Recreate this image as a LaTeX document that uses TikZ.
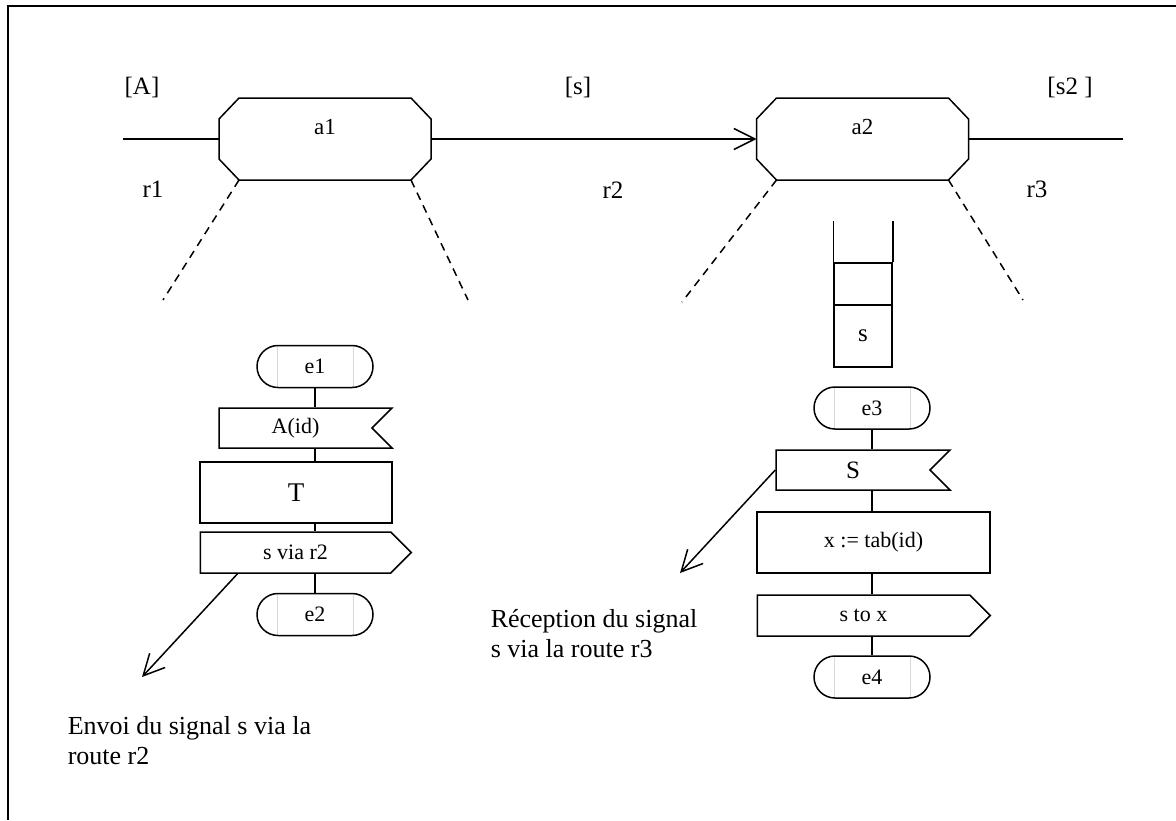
\documentclass[tikz,border=0pt]{standalone}
\usepackage{fontspec}
\setmainfont{Liberation Serif}
\usetikzlibrary{calc}
\usetikzlibrary{shapes.misc}
\usetikzlibrary{shapes.symbols}
\usetikzlibrary{arrows.meta}

\begin{document}
\begin{tikzpicture}[x=0.5pt, y=-0.5pt, line width=0.75pt,
      font=\fontsize{12.5}{15}\selectfont,
      >={Straight Barb[length=10.5pt, width=10.5pt]},
      small/.style={font=\fontsize{11}{13}\selectfont},
      big/.style={font=\fontsize{13.5}{15}\selectfont},
      note/.style={anchor=north west, align=left, inner sep=0pt,
        font=\fontsize{13}{15}\selectfont},
      block/.style={rectangle, minimum width=106pt, minimum height=41pt,
        inner sep=0pt, outer sep=0pt},
      term/.style={rounded rectangle, draw, small, minimum width=58pt,
        minimum height=21pt, inner sep=0pt,
        path picture={\draw[gray!30, line width=0.5pt]
          ([xshift=10pt]path picture bounding box.north west) --
          ([xshift=10pt]path picture bounding box.south west)
          ([xshift=-10pt]path picture bounding box.north east) --
          ([xshift=-10pt]path picture bounding box.south east);}},
      inbox/.style={signal, signal to=nowhere, signal from=east, draw, small,
        minimum width=86.5pt, minimum height=20pt, inner sep=0pt},
      outbox/.style={signal, signal to=east, draw, small,
        minimum width=105.5pt, minimum height=20.5pt, inner sep=0pt},
      pbox/.style={rectangle, draw, small, minimum width=96pt,
        minimum height=30.5pt, inner sep=0pt}]
      \useasboundingbox (0,0) rectangle (1176,820);
      \draw[line width=1pt] (8,820) -- (8,6) -- (1176,6);

      \node[block, label={[font=\fontsize{11.5}{13}\selectfont, yshift=6pt]center:a1}] (a1) at (325,139) {};
      \node[block, label={[font=\fontsize{11.5}{13}\selectfont, yshift=6pt]center:a2}] (a2) at (862.5,139) {};
      \foreach \b in {a1,a2}
        \draw ($(\b.north west)+(20,0)$) -- ($(\b.north east)+(-20,0)$)
          -- ($(\b.north east)+(0,21)$) -- ($(\b.south east)+(0,-21)$)
          -- ($(\b.south east)+(-20,0)$) -- ($(\b.south west)+(20,0)$)
          -- ($(\b.south west)+(0,-21)$) -- ($(\b.north west)+(0,21)$) -- cycle;
      \coordinate (w) at (123,139);
      \coordinate (e) at (1123,139);
      \draw (w) -- (a1);
      \draw[->] (a1) -- (a2);
      \draw (a2) -- (e);

      \coordinate (d1) at (163,300);
      \coordinate (d2) at (468,300);
      \coordinate (d3) at (682,302);
      \coordinate (d4) at (1023,300);
      \draw[dash pattern=on 4pt off 3pt] ($(a1.south)+(-86,0)$) -- (d1);
      \draw[dash pattern=on 4pt off 3pt] ($(a1.south)+(86,0)$) -- (d2);
      \draw[dash pattern=on 4pt off 3pt] ($(a2.south)+(-86,0)$) -- (d3);
      \draw[dash pattern=on 4pt off 3pt] ($(a2.south)+(86,0)$) -- (d4);

      \node (lA) at (142,87) {[A]};
      \node (ls) at (578,87) {[s]};
      \node (ls2) at (1070,87) {[s2 ]};
      \node (r1) at (153,189) {r1};
      \node (r2) at (613,190) {r2};
      \node (r3) at (1037,189) {r3};

      \node[term] (e1) at (315,366.5) {e1};
      \node[inbox] (aid) at (295.5,428) {A(id)};
      \node[pbox, big] (T) at (296,492.5) {T};
      \node[outbox] (sr2) at (295.5,552.5) {s via r2};
      \node[term] (e2) at (315,614.5) {e2};
      \foreach \a/\b in {e1/aid, aid/T, T/sr2, sr2/e2}
        \draw (\a.south -| e1) -- (\b.north -| e1);

      \node[draw, minimum width=29pt, minimum height=21pt] (qm) at (863,284) {};
      \node[draw, minimum width=29pt, minimum height=31pt] (qs) at (863,336) {s};
      \draw (qm.north west) -- ++(0,-41);
      \draw (qm.north east) -- ++(0,-41);

      \node[term] (e3) at (872,408) {e3};
      \node[inbox, minimum width=87pt, font=\fontsize{12.5}{15}\selectfont] (S) at (853,470) {S};
      \node[pbox, minimum width=116.5pt] (tab) at (873.5,542.5) {x := tab(id)};
      \node[outbox, minimum width=116.5pt] (sx) at (863.5,615.5) {s to x};
      \node[term] (e4) at (872,677) {e4};
      \foreach \a/\b in {e3/S, S/tab, tab/sx, sx/e4}
        \draw (\a.south -| e3) -- (\b.north -| e3);

      \coordinate (t2) at (142,677);
      \coordinate (t3) at (680,573);
      \draw[->] ($(sr2.south west)+(38,0)$) -- (t2);
      \draw[->] (S.west) -- (t3);

      \node[note] (env) at (67,716) {Envoi du signal s via la\\route r2};
      \node[note] (rec) at (490,609) {Réception du signal\\s via la route r3};
    \end{tikzpicture}
\end{document}
